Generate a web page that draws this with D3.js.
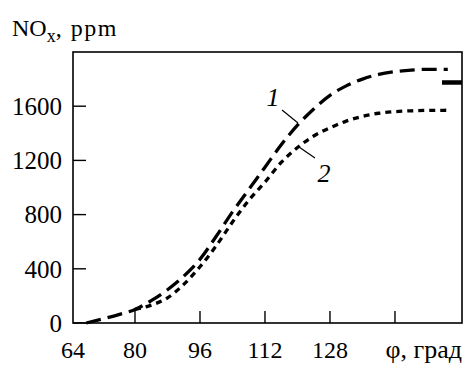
<!DOCTYPE html>
<html>
<head>
<meta charset="utf-8">
<script src="https://cdn.jsdelivr.net/npm/d3@7"></script>
<style>
  html, body { margin: 0; padding: 0; background: #fff; }
  svg { display: block; }
  text { font-family: "Liberation Serif", "Times New Roman", serif; fill: #000; }
</style>
</head>
<body>
<svg id="chart" width="475" height="381"></svg>
<script>
// ---- data ----
const phi1 = [68, 72, 76, 80, 84, 88, 92, 96, 100, 104, 108, 112, 116, 120, 124, 128, 132, 136, 140, 144, 148, 152, 157];
const nox1 = [0, 30, 62, 100, 165, 245, 345, 470, 640, 820, 985, 1150, 1315, 1460, 1580, 1680, 1750, 1800, 1835, 1855, 1867, 1872, 1872];
const phi2 = [80, 84, 88, 92, 96, 100, 104, 108, 112, 116, 120, 124, 128, 132, 136, 140, 144, 148, 152, 157];
const nox2 = [100, 132, 185, 285, 415, 570, 745, 905, 1040, 1185, 1295, 1380, 1440, 1490, 1525, 1548, 1560, 1566, 1569, 1570];
const measuredLevel = 1775;
const xTicks = [80, 96, 112, 128, 144];
const xTickLabels = ["64", "80", "96", "112", "128"];
const xLabelValues = [64, 80, 96, 112, 128];
const yTicks = [0, 400, 800, 1200, 1600];
const curveNames = ["1", "2"];

// ---- layout ----
const svg = d3.select("#chart");
const pL = 73, pR = 462, pT = 52, pB = 323;
const x = d3.scaleLinear().domain([64, 160.5]).range([70, 462]);
const y = d3.scaleLinear().domain([0, 2000]).range([pB, pT]);

// frame
svg.append("rect").attr("x", pL).attr("y", pT).attr("width", pR - pL).attr("height", pB - pT)
  .attr("fill", "none").attr("stroke", "#000").attr("stroke-width", 1.6);

// y ticks (inward)
svg.selectAll(".yt").data(yTicks).enter().append("line")
  .attr("x1", pL).attr("x2", pL + 13)
  .attr("y1", d => y(d)).attr("y2", d => y(d))
  .attr("stroke", "#000").attr("stroke-width", 1.4);
svg.selectAll(".yl").data(yTicks).enter().append("text")
  .attr("x", 62).attr("y", d => y(d)).attr("dy", "0.35em")
  .attr("text-anchor", "end").attr("font-size", 25).text(d => d);

// x ticks (inward)
svg.selectAll(".xt").data(xTicks).enter().append("line")
  .attr("x1", d => x(d)).attr("x2", d => x(d))
  .attr("y1", pB).attr("y2", pB - 12)
  .attr("stroke", "#000").attr("stroke-width", 1.4);
svg.selectAll(".xl").data(xLabelValues).enter().append("text")
  .attr("x", (d, i) => i === 0 ? pL : x(d)).attr("y", 358)
  .attr("text-anchor", "middle").attr("font-size", 24).text((d, i) => xTickLabels[i]);

svg.append("text").attr("x", 462).attr("y", 358).attr("text-anchor", "end")
  .attr("font-size", 26).text("φ, град");

// y title
const yt = svg.append("text").attr("x", 12).attr("y", 36).attr("font-size", 24);
yt.append("tspan").text("NO");
yt.append("tspan").attr("font-size", 18).attr("dy", 6).text("x");
yt.append("tspan").attr("dy", -6).attr("letter-spacing", 1.5).text(", ppm");

// curves
const line = d3.line().x(d => x(d[0])).y(d => y(d[1])).curve(d3.curveMonotoneX);
svg.append("path").datum(d3.zip(phi1, nox1)).attr("d", line)
  .attr("fill", "none").attr("stroke", "#000").attr("stroke-width", 3.3)
  .attr("stroke-dasharray", "15,7");
svg.append("path").datum(d3.zip(phi2, nox2)).attr("d", line)
  .attr("fill", "none").attr("stroke", "#000").attr("stroke-width", 3.3)
  .attr("stroke-dasharray", "6,5");

// measured level marker
svg.append("line").attr("x1", pR - 20).attr("x2", pR)
  .attr("y1", y(measuredLevel)).attr("y2", y(measuredLevel))
  .attr("stroke", "#000").attr("stroke-width", 4.5);

// curve labels with leaders
svg.append("text").attr("x", 273).attr("y", 106).attr("text-anchor", "middle")
  .attr("font-size", 26).attr("font-style", "italic").text(curveNames[0]);
svg.append("line").attr("x1", 282).attr("y1", 110).attr("x2", 298).attr("y2", 123)
  .attr("stroke", "#000").attr("stroke-width", 1.2);
svg.append("text").attr("x", 324).attr("y", 182).attr("text-anchor", "middle")
  .attr("font-size", 26).attr("font-style", "italic").text(curveNames[1]);
svg.append("line").attr("x1", 299).attr("y1", 147).attr("x2", 315).attr("y2", 158)
  .attr("stroke", "#000").attr("stroke-width", 1.2);
</script>
</body>
</html>
